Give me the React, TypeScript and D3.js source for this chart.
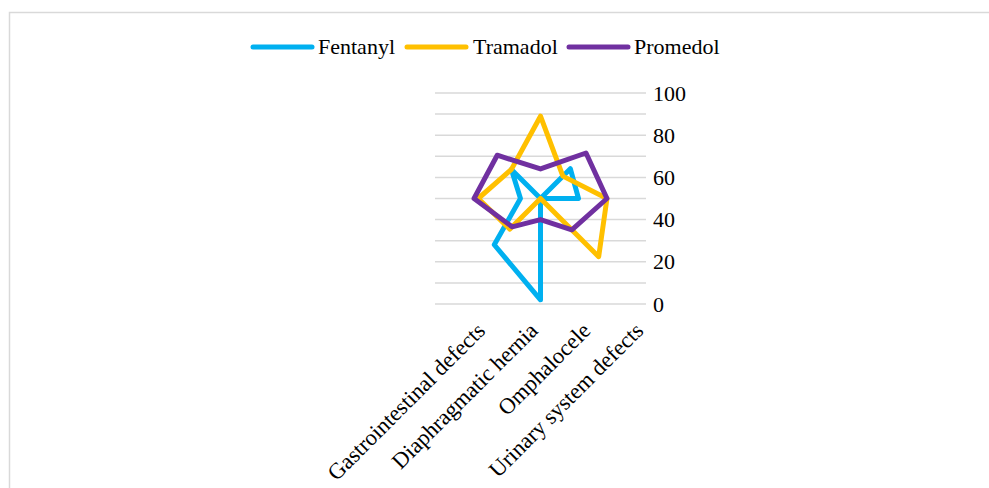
import React from "react";
import * as d3 from "d3";

// Category labels along the bottom axis
const categories = [
  "Gastrointestinal defects",
  "Diaphragmatic hernia",
  "Omphalocele",
  "Urinary system defects",
];

// Value axis ticks
const yTicks = [0, 20, 40, 60, 80, 100];
const gridValues = [0, 10, 20, 30, 40, 50, 60, 70, 80, 90, 100];

// Radar spokes, clockwise from the top
const spokes = ["S1", "S2", "S3", "S4", "S5", "S6", "S7", "S8"];

// Series values, one per spoke
const fentanyl = [0, 40, 36, 0, 96, 62, 19, 39];
const tramadol = [78, 30, 63, 78, 0, 41, 59, 39];
const promedol = [28, 61, 63, 42, 20, 38, 63, 58];

const seriesNames = ["Fentanyl", "Tramadol", "Promedol"];
const seriesColors = ["#00B0F0", "#FFC000", "#7030A0"];

const W = 989;
const H = 488;
const FONT = "'Liberation Serif', 'Times New Roman', serif";

export default function App() {
  const series = [fentanyl, tramadol, promedol];

  const x = d3.scaleBand<string>().domain(categories).range([435, 646]);
  const y = d3.scaleLinear().domain([0, 100]).range([304, 93]);

  const cx = (x.range()[0] + x.range()[1]) / 2;
  const cy = y(50);
  const r = d3.scaleLinear().domain([0, 100]).range([0, y(0) - y(50)]);
  const angle = d3
    .scalePoint<string>()
    .domain(spokes)
    .range([0, (2 * Math.PI * (spokes.length - 1)) / spokes.length]);

  const radar = d3
    .lineRadial<number>()
    .angle((_, i) => angle(spokes[i]) as number)
    .radius((v) => r(v))
    .curve(d3.curveLinearClosed);

  // Legend layout
  const legendItems = [
    { x: 253, textX: 318 },
    { x: 407, textX: 473 },
    { x: 569, textX: 634 },
  ];
  const legendY = 47;

  return (
    <>
      <style>{`body{margin:0}`}</style>
      <svg width={W} height={H} style={{ display: "block", background: "#fff" }}>
        <rect x={9.5} y={12.5} width={1000} height={500} fill="#fff" stroke="#d9d9d9" strokeWidth={1.5} />

        {/* legend */}
        {seriesNames.map((name, i) => (
          <g key={name}>
            <line
              x1={legendItems[i].x}
              x2={legendItems[i].x + 59}
              y1={legendY}
              y2={legendY}
              stroke={seriesColors[i]}
              strokeWidth={5}
              strokeLinecap="round"
            />
            <text
              x={legendItems[i].textX}
              y={legendY + 7}
              fontFamily={FONT}
              fontSize={22}
              fill="#000"
            >
              {name}
            </text>
          </g>
        ))}

        {/* gridlines */}
        {gridValues.map((v) => (
          <line
            key={v}
            x1={x.range()[0]}
            x2={x.range()[1]}
            y1={y(v)}
            y2={y(v)}
            stroke="#d9d9d9"
            strokeWidth={1.5}
          />
        ))}

        {/* value axis labels */}
        {yTicks.map((v) => (
          <text
            key={v}
            x={653}
            y={y(v) + 7.5}
            fontFamily={FONT}
            fontSize={22}
            fill="#000"
          >
            {v}
          </text>
        ))}

        {/* category labels */}
        {categories.map((c) => {
          const px = (x(c) as number) + x.bandwidth() / 2 + 25;
          const py = 332;
          return (
            <text
              key={c}
              transform={`translate(${px},${py}) rotate(-45)`}
              textAnchor="end"
              fontFamily={FONT}
              fontSize={22.5}
              fill="#000"
            >
              {c}
            </text>
          );
        })}

        {/* radar series */}
        <g transform={`translate(${cx},${cy})`}>
          {series.map((s, i) => (
            <path
              key={seriesNames[i]}
              d={radar(s) as string}
              fill="none"
              stroke={seriesColors[i]}
              strokeWidth={5}
              strokeLinejoin="round"
            />
          ))}
        </g>
      </svg>
    </>
  );
}
